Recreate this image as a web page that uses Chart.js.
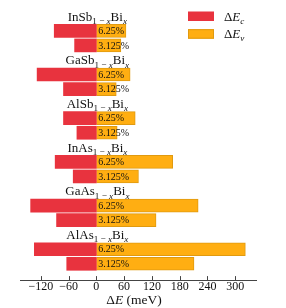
<!DOCTYPE html>
<html>
<head>
<meta charset="utf-8">
<script src="https://cdn.jsdelivr.net/npm/chart.js@4/dist/chart.umd.min.js"></script>
<style>
  html, body { margin: 0; padding: 0; background: #fff; }
  #wrap { width: 286px; height: 308px; }
</style>
</head>
<body>
<div id="wrap"><canvas id="offsets"></canvas></div>
<script>
// alloys top to bottom, two Bi concentrations each
const alloys = ["InSb", "GaSb", "AlSb", "InAs", "GaAs", "AlAs"];
const concs = ["6.25%", "3.125%"];

// band offsets in meV
const dEc_625 = [-91, -128, -71, -89, -142, -134];
const dEc_3125 = [-47, -71, -42, -50, -86, -64];
const dEv_625 = [64, 73, 84, 165, 220, 322];
const dEv_3125 = [53, 43, 45, 91, 129, 211];

const xTicks = [-120, -60, 0, 60, 120, 180, 240, 300];

const SERIF = "'Liberation Serif', 'DejaVu Serif', serif";

// each alloy takes three rows: name, 6.25%, 3.125%
function rows(a625, a3125) {
  let out = [];
  alloys.forEach((al, i) => {
    out.push({ x: a625[i], y: 3 * i + 1 });
    out.push({ x: a3125[i], y: 3 * i + 2 });
  });
  return out;
}

// draw text pieces with italics / subscripts
function richWidth(ctx, parts, size) {
  let w = 0;
  parts.forEach(p => {
    let s = p.sub ? size * 0.7 : size;
    ctx.font = (p.it ? "italic " : "") + s + "px " + SERIF;
    w += ctx.measureText(p.t).width;
  });
  return w;
}
function drawRich(ctx, parts, x, y, size, align) {
  let w = richWidth(ctx, parts, size);
  let cx = align == "center" ? x - w / 2 : x;
  ctx.textAlign = "left";
  ctx.textBaseline = "alphabetic";
  parts.forEach(p => {
    let s = p.sub ? size * 0.7 : size;
    ctx.font = (p.it ? "italic " : "") + s + "px " + SERIF;
    ctx.fillText(p.t, cx, y + (p.sub ? size * 0.25 : 0));
    cx += ctx.measureText(p.t).width;
  });
}

const legendParts = [
  [{ t: "Δ" }, { t: "E", it: true }, { t: "c", it: true, sub: true }],
  [{ t: "Δ" }, { t: "E", it: true }, { t: "v", it: true, sub: true }]
];

const labelsPlugin = {
  id: "labelsPlugin",
  afterDatasetsDraw(chart) {
    const ctx = chart.ctx;
    const xs = chart.scales.x, ys = chart.scales.y;
    const x0 = xs.getPixelForValue(0);
    ctx.save();
    ctx.fillStyle = "#111";
    alloys.forEach((al, i) => {
      // alloy name on its own row
      let yy = ys.getPixelForValue(3 * i);
      drawRich(ctx, [{ t: al }, { t: "1 − ", sub: true }, { t: "x", it: true, sub: true },
        { t: "Bi" }, { t: "x", it: true, sub: true }], x0 + 1, yy + 4.5, 13, "center");
      concs.forEach((c, j) => {
        let yb = ys.getPixelForValue(3 * i + 1 + j);
        ctx.font = "10px " + SERIF;
        ctx.textAlign = "left";
        ctx.textBaseline = "middle";
        ctx.fillText(c, x0 + 2, yb + 0.5);
      });
    });

    // tick marks pointing up from the axis
    const ca = chart.chartArea;
    ctx.strokeStyle = "#444";
    ctx.lineWidth = 1;
    xTicks.forEach(v => {
      let px = Math.round(xs.getPixelForValue(v)) + 0.5;
      ctx.beginPath();
      ctx.moveTo(px, ca.bottom);
      ctx.lineTo(px, ca.bottom - 4);
      ctx.stroke();
    });

    // axis title
    ctx.fillStyle = "#111";
    drawRich(ctx, [{ t: "Δ" }, { t: "E", it: true }, { t: " (meV)" }],
      (ca.left + ca.right) / 2 - 4, 304, 13.5, "center");

    // legend
    chart.data.datasets.forEach((ds, k) => {
      let by = 11.5 + k * 17.7;
      ctx.fillStyle = ds.backgroundColor;
      ctx.fillRect(188, by, 26, 9.5);
      if (ds.borderWidth) {
        ctx.strokeStyle = ds.borderColor;
        ctx.strokeRect(188.5, by + 0.5, 25, 8.5);
      }
      ctx.fillStyle = "#111";
      drawRich(ctx, legendParts[k], 224, by + 9, 13, "left");
    });
    ctx.restore();
  }
};

new Chart(document.getElementById("offsets"), {
  type: "bar",
  data: {
    datasets: [
      {
        label: "ΔEc",
        data: rows(dEc_625, dEc_3125),
        backgroundColor: "#e8333e",
        borderWidth: 0
      },
      {
        label: "ΔEv",
        data: rows(dEv_625, dEv_3125),
        backgroundColor: "#ffae12",
        borderColor: "#e09a10",
        borderWidth: 1
      }
    ]
  },
  plugins: [labelsPlugin],
  options: {
    indexAxis: "y",
    responsive: true,
    maintainAspectRatio: false,
    animation: false,
    grouped: false,
    barThickness: 13,
    layout: { padding: { top: 9, left: 20, right: 30, bottom: 13.5 } },
    plugins: {
      legend: { display: false },
      tooltip: { enabled: false }
    },
    scales: {
      y: {
        type: "linear",
        reverse: true,
        offset: false,
        min: -0.5,
        max: 18.12,
        display: false
      },
      x: {
        type: "linear",
        min: -165,
        max: 345,
        afterBuildTicks: axis => {
          axis.ticks = xTicks.map(v => ({ value: v }));
        },
        grid: { display: false, drawTicks: false },
        border: { display: true, color: "#444", width: 1 },
        ticks: {
          padding: 0,
          color: "#111",
          font: { family: SERIF, size: 12 },
          callback: v => v < 0 ? "−" + Math.abs(v) : v
        }
      }
    }
  }
});
</script>
</body>
</html>
